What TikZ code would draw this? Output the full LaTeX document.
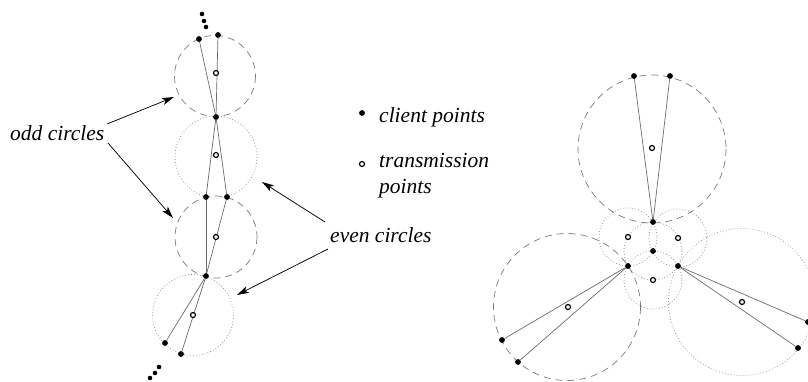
\documentclass[tikz,border=0pt]{standalone}
\usepackage{fontspec}
\setmainfont{Liberation Serif}
\usetikzlibrary{arrows.meta,backgrounds}

\begin{document}
\begin{tikzpicture}[x=1pt,y=-1pt,
  client/.style={circle,fill=black,inner sep=0pt,minimum size=5.8pt},
  trans/.style={circle,draw=black,line width=1.2pt,fill=white,inner sep=0pt,minimum size=5pt},
  trail/.style={circle,fill=black,inner sep=0pt,minimum size=4.6pt},
  link/.style={draw=black!58,line width=0.7pt},
  oddcirc/.style={draw=black!52,line width=0.7pt,dash pattern=on 7pt off 5pt},
  evencirc/.style={draw=black!42,line width=0.75pt,dash pattern=on 0.8pt off 2.2pt},
  pointer/.style={draw=black,line width=0.75pt,-{Stealth[length=12pt,width=7pt,inset=3pt]}},
  lbl/.style={font=\fontsize{21.5}{26}\selectfont\itshape,inner sep=0pt,anchor=base west}
]
\useasboundingbox (0,0) rectangle (808,381);
\clip (0,0) rectangle (808,381);

% ---------- chain of alternating circles ----------
\node[trail] (up1) at (202,14) {};
\node[trail] (up2) at (204,21) {};
\node[trail] (up3) at (206,27) {};
\node[trail] (dn1) at (159,367) {};
\node[trail] (dn2) at (155,373) {};
\node[trail] (dn3) at (150,378) {};

\node[client] (a1) at (199,39) {};
\node[client] (a2) at (218,35) {};
\node[client] (p1) at (216,117) {};
\node[client] (b1) at (206,197) {};
\node[client] (b2) at (227,197) {};
\node[client] (p3) at (206,276) {};
\node[client] (d1) at (165,343) {};
\node[client] (d2) at (181,354) {};

\node[trans] (t1) at (216,73) {};
\node[trans] (t2) at (216,155) {};
\node[trans] (t3) at (216,237) {};
\node[trans] (t4) at (193,315) {};

% ---------- three-way cluster ----------
\node[client] (u) at (653,222) {};
\node[client] (z) at (653,251) {};
\node[client] (l) at (628,266) {};
\node[client] (r) at (678,266) {};
\node[trans] (s1) at (628,237) {};
\node[trans] (s2) at (678,238) {};
\node[trans] (s3) at (653,280) {};

\node[client] (e1) at (634,76) {};
\node[client] (e2) at (670,76) {};
\node[trans] (tt) at (652,148) {};

\node[client] (f1) at (502,340) {};
\node[client] (f2) at (518,362) {};
\node[trans] (tl) at (568,307) {};

\node[client] (g1) at (798,348) {};
\node[client] (g2) at (808,322) {};
\node[trans] (tr) at (742,302) {};

\begin{scope}[on background layer]
  % chain circles
  \draw[oddcirc]  (215,76)  circle (40.5);
  \draw[evencirc] (216,157) circle (41);
  \draw[oddcirc]  (216,237) circle (41);
  \draw[evencirc] (193,315) circle (40.5);
  % chain links
  \draw[link] (a1) -- (p1);
  \draw[link] (a2) -- (p1);
  \draw[link] (p1) -- (b1);
  \draw[link] (p1) -- (b2);
  \draw[link] (b1) -- (p3);
  \draw[link] (b2) -- (p3);
  \draw[link] (p3) -- (d1);
  \draw[link] (p3) -- (d2);

  % cluster circles
  \draw[oddcirc]  (652,149) circle (74);
  \draw[oddcirc]  (567,307) circle (73.5);
  \draw[evencirc] (742,302) circle (73.5);
  \draw[evencirc] (s1) circle (29);
  \draw[evencirc] (s2) circle (29);
  \draw[evencirc] (s3) circle (29);
  \draw[evencirc] (z)  circle (29);
  % cluster links
  \draw[link] (e1) -- (u);
  \draw[link] (e2) -- (u);
  \draw[link] (l) -- (f1);
  \draw[link] (l) -- (f2);
  \draw[link] (r) -- (g1);
  \draw[link] (r) -- (g2);
\end{scope}

% ---------- legend ----------
\node[client] (key1) at (362,113) {};
\node[trans]  (key2) at (362,164) {};
\node[lbl] (keytext1) at (379,122) {client points};
\node[lbl] (keytext2) at (379,167) {transmission};
\node[lbl] (keytext3) at (379,193) {points};

% ---------- annotations ----------
\node[lbl] (odd)  at (10,140)  {odd circles};
\node[lbl] (even) at (330,242) {even circles};

\coordinate (oddfrom1) at (107,124);
\coordinate (oddfrom2) at (108,143);
\coordinate (oddto1) at (174,97);
\coordinate (oddto2) at (173,218);
\coordinate (evenfrom1) at (325,222);
\coordinate (evenfrom2) at (328,249);
\coordinate (evento1) at (262,182);
\coordinate (evento2) at (237,295);

\draw[pointer] (oddfrom1) -- (oddto1);
\draw[pointer] (oddfrom2) -- (oddto2);
\draw[pointer] (evenfrom1) -- (evento1);
\draw[pointer] (evenfrom2) -- (evento2);
\end{tikzpicture}
\end{document}
